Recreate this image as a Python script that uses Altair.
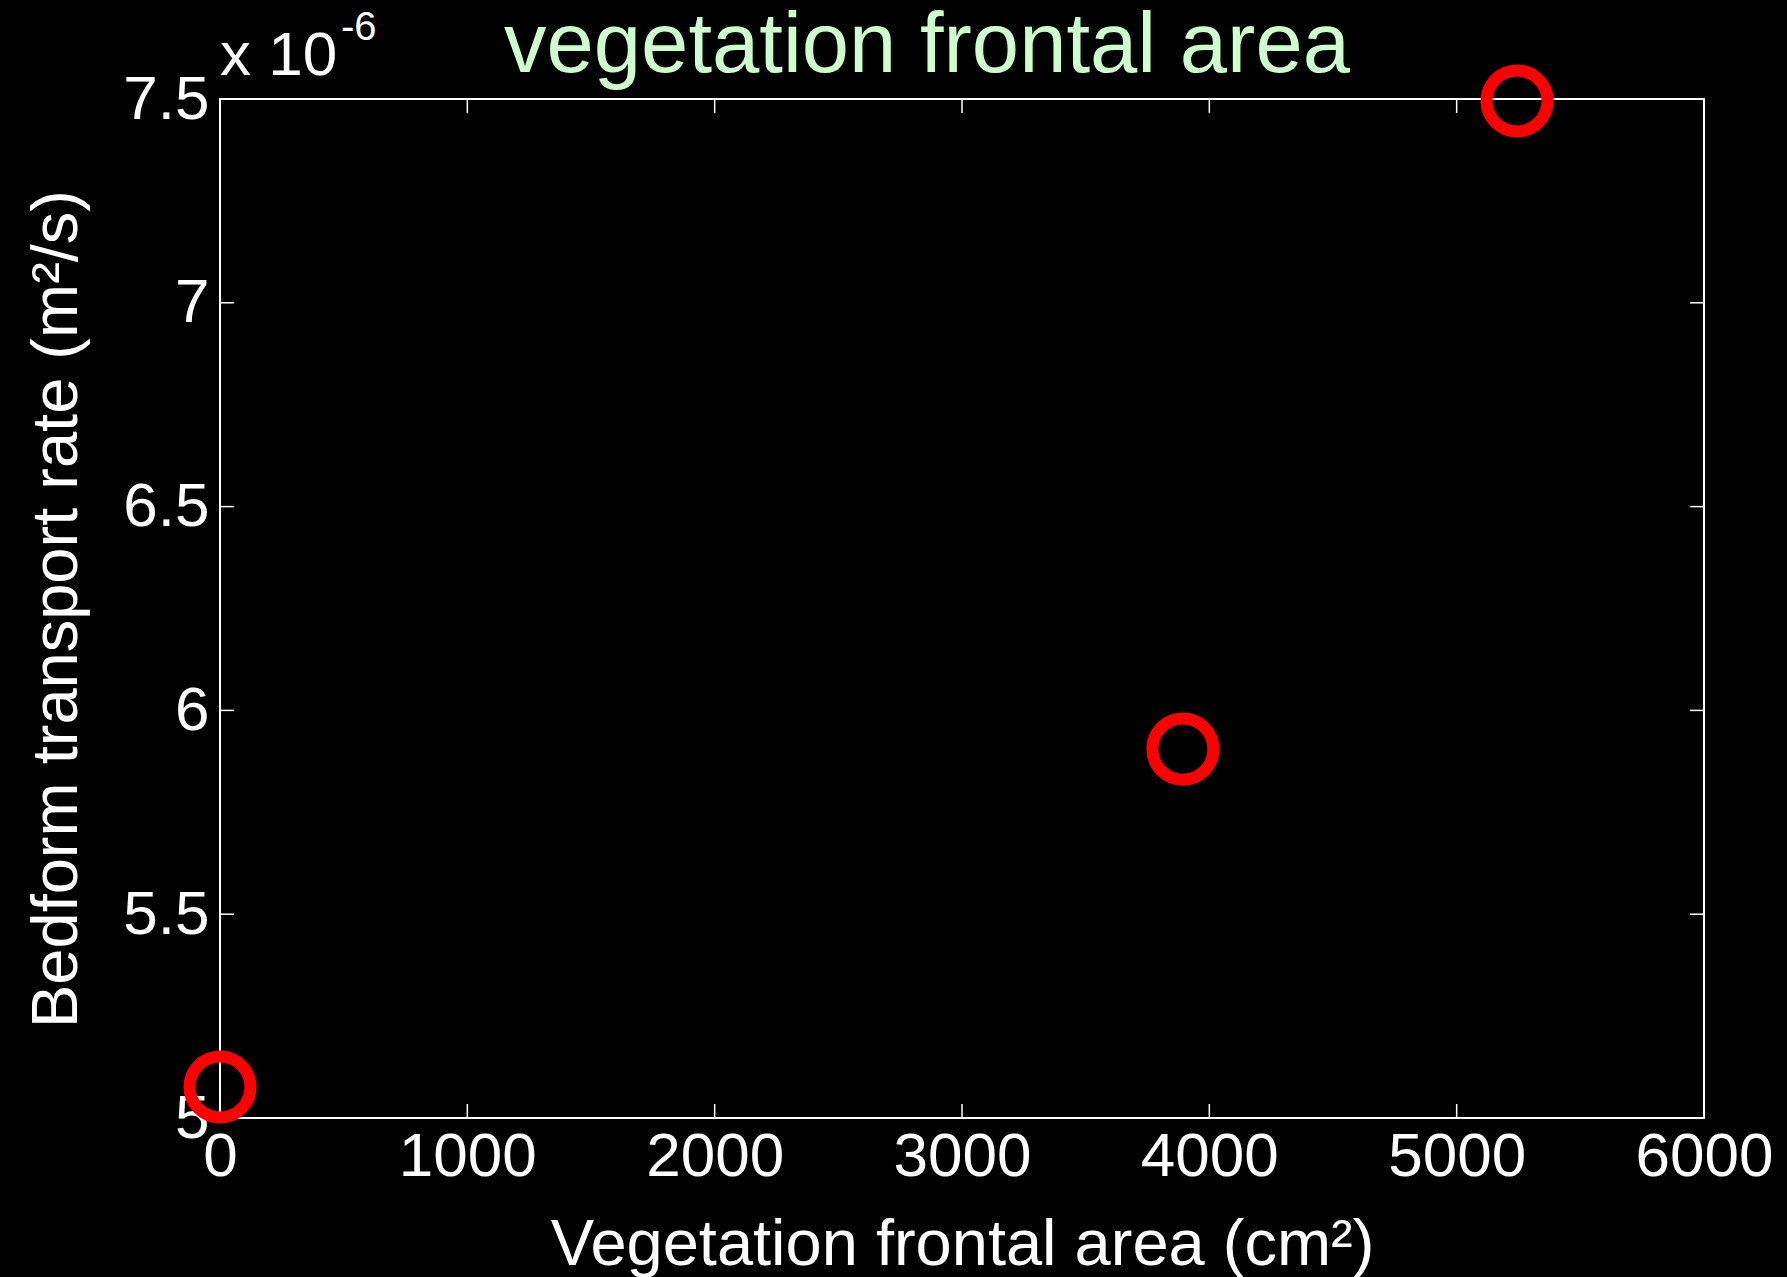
import altair as alt
import pandas as pd

# Data (y in units of 1e-6 m^2/s)
frontal_area = [0, 3893, 5244]
transport_rate = [5.076, 5.905, 7.495]

x_ticks = [0, 1000, 2000, 3000, 4000, 5000, 6000]
y_ticks = [5, 5.5, 6, 6.5, 7, 7.5]

title_text = ["vegetation frontal area"]
exp_base = ["x 10"]
exp_power = ["-6"]

W, H = 1484, 1019
FONT = "Liberation Sans"

pts = pd.DataFrame({"area": frontal_area, "rate": transport_rate})
xt = pd.DataFrame({"v": x_ticks})
yt = pd.DataFrame({"v": y_ticks})

xscale = alt.Scale(domain=[0, 6000], nice=False, zero=False)
yscale = alt.Scale(domain=[5, 7.5], nice=False, zero=False)

xaxis = alt.Axis(
    values=x_ticks, format="d", labelFontSize=62, labelColor="white", labelFont=FONT,
    labelPadding=8, ticks=False, domain=False, grid=False,
    title="Vegetation frontal area (cm²)", titleFontSize=65, titleColor="white",
    titleFont=FONT, titleFontWeight="normal", titlePadding=26, labelFlush=False,
    labelOverlap=False,
)
yaxis = alt.Axis(
    values=y_ticks, format="~g", labelFontSize=62, labelColor="white", labelFont=FONT,
    labelPadding=11, ticks=False, domain=False, grid=False,
    title="Bedform transport rate (m²/s)", titleFontSize=65, titleColor="white",
    titleFont=FONT, titleFontWeight="normal", titlePadding=32, labelFlush=False,
    labelOverlap=False,
)

points = alt.Chart(pts).mark_point(
    shape="circle", filled=False, stroke="#ff0000", strokeWidth=12, size=3721, opacity=1
).encode(
    x=alt.X("area:Q", scale=xscale, axis=xaxis),
    y=alt.Y("rate:Q", scale=yscale, axis=yaxis),
)

tick_style = dict(color="white", strokeWidth=1.5)
tick_len = 14

bottom_ticks = alt.Chart(xt).mark_rule(**tick_style).encode(
    x=alt.X("v:Q", scale=xscale), y=alt.value(H), y2=alt.value(H - tick_len)
)
top_ticks = alt.Chart(xt).mark_rule(**tick_style).encode(
    x=alt.X("v:Q", scale=xscale), y=alt.value(0), y2=alt.value(tick_len)
)
left_ticks = alt.Chart(yt).mark_rule(**tick_style).encode(
    y=alt.Y("v:Q", scale=yscale), x=alt.value(0), x2=alt.value(tick_len)
)
right_ticks = alt.Chart(yt).mark_rule(**tick_style).encode(
    y=alt.Y("v:Q", scale=yscale), x=alt.value(W), x2=alt.value(W - tick_len)
)

title = alt.Chart(pd.DataFrame({"t": title_text})).mark_text(
    font=FONT, fontSize=85, color="#ccffcc", align="center", baseline="alphabetic"
).encode(text="t:N", x=alt.value(707), y=alt.value(-27))

exp1 = alt.Chart(pd.DataFrame({"t": exp_base})).mark_text(
    font=FONT, fontSize=62, color="white", align="left", baseline="alphabetic"
).encode(text="t:N", x=alt.value(0), y=alt.value(-24))

exp2 = alt.Chart(pd.DataFrame({"t": exp_power})).mark_text(
    font=FONT, fontSize=40, color="white", align="left", baseline="alphabetic"
).encode(text="t:N", x=alt.value(121), y=alt.value(-59))

chart = alt.layer(
    bottom_ticks, top_ticks, left_ticks, right_ticks, points, title, exp1, exp2
).properties(
    width=W, height=H,
    autosize=alt.AutoSizeParams(type="none"),
    padding={"left": 220, "top": 99, "right": 83, "bottom": 159},
    background="black",
).configure_view(
    stroke="white", strokeWidth=2, fill="black"
)

chart.save("out.html", embed_options={"renderer": "svg", "actions": False})
